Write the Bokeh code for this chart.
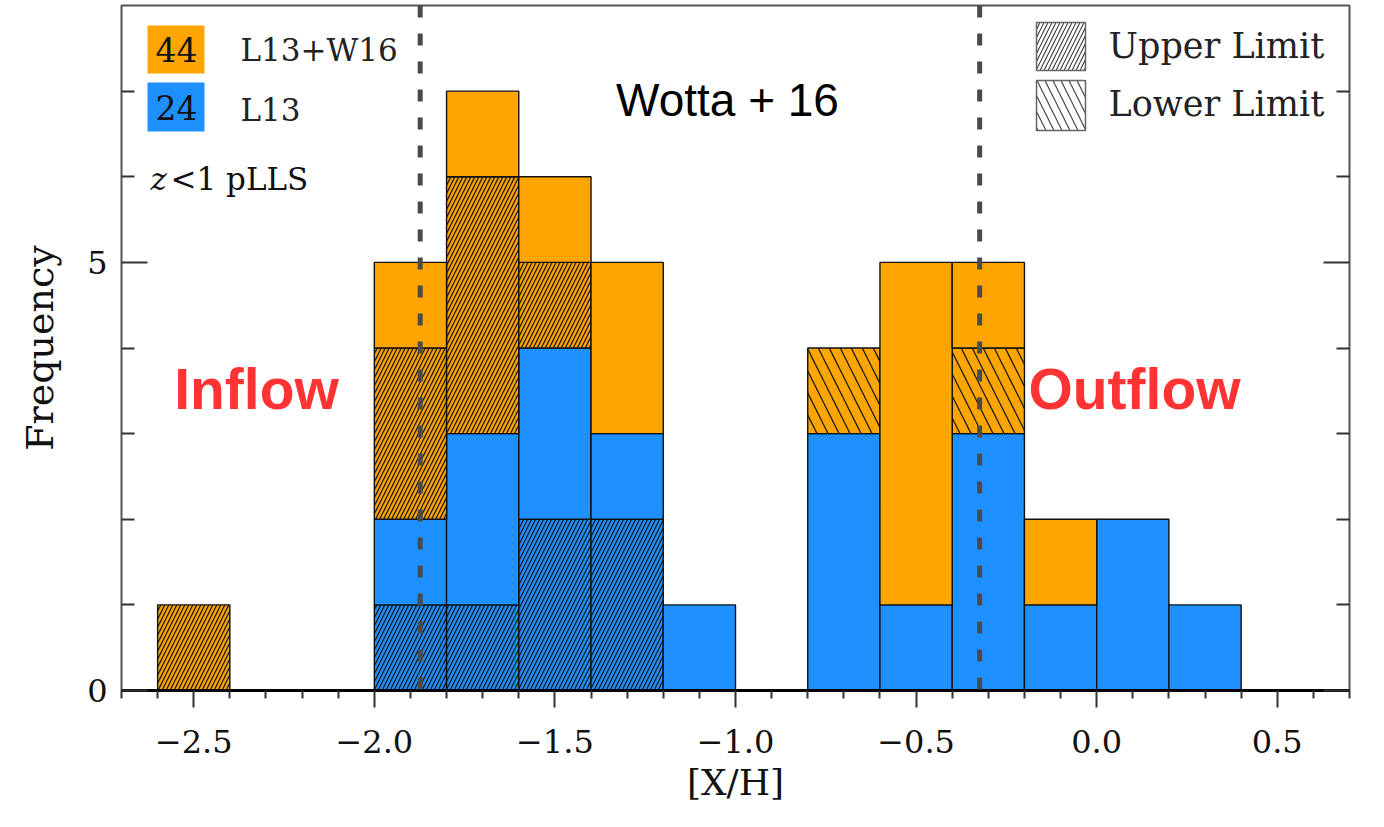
from bokeh.plotting import figure
from bokeh.models import Span, Label, FixedTicker, LinearAxis
from bokeh.embed import file_html
from bokeh.resources import INLINE

# ---------------- data ----------------
bin_left = [-2.6, -2.4, -2.2, -2.0, -1.8, -1.6, -1.4, -1.2, -1.0, -0.8, -0.6, -0.4, -0.2, 0.0, 0.2]
bin_width = 0.2
# L13 (blue): upper limits and detections
l13_upper = [0, 0, 0, 1, 1, 2, 2, 0, 0, 0, 0, 0, 0, 0, 0]
l13_det   = [0, 0, 0, 1, 2, 2, 1, 1, 0, 3, 1, 3, 1, 2, 1]
# W16 additions (orange): upper limits, lower limits, detections
w16_upper = [1, 0, 0, 2, 3, 1, 0, 0, 0, 0, 0, 0, 0, 0, 0]
w16_lower = [0, 0, 0, 0, 0, 0, 0, 0, 0, 1, 0, 1, 0, 0, 0]
w16_det   = [0, 0, 0, 1, 1, 1, 2, 0, 0, 0, 4, 1, 1, 0, 0]

n_total = ["44", "24"]
series_names = ["L13+W16", "L13"]
median_lines = [-1.873, -0.324]

x_major = [-2.5, -2.0, -1.5, -1.0, -0.5, 0.0, 0.5]
x_labels = ["\u22122.5", "\u22122.0", "\u22121.5", "\u22121.0", "\u22120.5", "0.0", "0.5"]
x_minor = [-2.7, -2.6, -2.4, -2.3, -2.2, -2.1, -1.9, -1.8, -1.7, -1.6, -1.4, -1.3, -1.2,
           -1.1, -0.9, -0.8, -0.7, -0.6, -0.4, -0.3, -0.2, -0.1, 0.1, 0.2, 0.3, 0.4, 0.6, 0.7]
y_major = [0, 5]
y_minor = [1, 2, 3, 4, 6, 7]

ORANGE = "#FFA500"
BLUE = "#1E90FF"
SERIF = "DejaVu Serif"
SANS = "Liberation Sans"

X0, X1 = -2.7, 0.7
Y0, Y1 = 0, 8

FL, FT, FW, FH = 121, 5, 1228, 685
W, H = 1368, 819

p = figure(width=W, height=H, x_range=(X0, X1), y_range=(Y0, Y1),
           output_backend="svg", toolbar_location=None,
           min_border_left=FL, min_border_right=W - FL - FW,
           min_border_top=FT, min_border_bottom=H - FT - FH)
p.grid.visible = False
p.outline_line_color = "#555555"
p.outline_line_width = 2
p.background_fill_color = "white"
p.border_fill_color = "white"

# pixel -> data helpers for annotation placement
def dx(px):
    return X0 + (px - FL) / FW * (X1 - X0)
def dy(py):
    return Y1 - (py - FT) / FH * (Y1 - Y0)

# ---------------- stacked histogram ----------------
layers = [
    (l13_upper, BLUE, "right_diagonal_line", 8),
    (l13_det, BLUE, None, None),
    (w16_upper, ORANGE, "right_diagonal_line", 8),
    (w16_lower, ORANGE, "left_diagonal_line", 22),
    (w16_det, ORANGE, None, None),
]
base = [0] * len(bin_left)
for counts, color, hatch, scale in layers:
    L, R, B, T = [], [], [], []
    for i, c in enumerate(counts):
        if c > 0:
            L.append(bin_left[i]); R.append(bin_left[i] + bin_width)
            B.append(base[i]); T.append(base[i] + c)
        base[i] += c
    if not L:
        continue
    kw = dict(left=L, right=R, bottom=B, top=T, fill_color=color,
              line_color="#111111", line_width=1.4)
    if hatch:
        kw.update(hatch_pattern=hatch, hatch_scale=scale, hatch_color="#1a1a1a",
                  hatch_weight=1.3)
    p.quad(**kw)

# dashed vertical lines
for m in median_lines:
    p.add_layout(Span(location=m, dimension="height", line_color="#4a4a4a",
                      line_width=5, line_dash="12 16"))

# ---------------- axes ----------------
xa = p.xaxis[0]
xa.ticker = FixedTicker(ticks=x_major, minor_ticks=x_minor)
xa.major_label_overrides = {t: s for t, s in zip(x_major, x_labels)}
xa.axis_line_color = "black"
xa.axis_line_width = 3
xa.major_tick_in = 0
xa.major_tick_out = 17
xa.minor_tick_in = 0
xa.minor_tick_out = 8
xa.major_tick_line_color = "#333333"
xa.minor_tick_line_color = "#333333"
xa.major_tick_line_width = 2
xa.minor_tick_line_width = 2
xa.major_label_text_font = SERIF
xa.major_label_text_font_size = "32px"
xa.major_label_text_color = "#111111"
xa.major_label_standoff = 22
xa.axis_label = "[X/H]"
xa.axis_label_text_font = SERIF
xa.axis_label_text_font_size = "36px"
xa.axis_label_text_font_style = "normal"
xa.axis_label_text_color = "#111111"
xa.axis_label_standoff = 6

ya = p.yaxis[0]
ya.ticker = FixedTicker(ticks=y_major, minor_ticks=y_minor)
ya.axis_line_color = None
ya.major_tick_in = 26
ya.major_tick_out = 0
ya.minor_tick_in = 13
ya.minor_tick_out = 0
ya.major_tick_line_color = "#333333"
ya.minor_tick_line_color = "#333333"
ya.major_tick_line_width = 2
ya.minor_tick_line_width = 2
ya.major_label_text_font = SERIF
ya.major_label_text_font_size = "32px"
ya.major_label_text_color = "#111111"
ya.major_label_standoff = 14
ya.axis_label = "Frequency"
ya.axis_label_text_font = SERIF
ya.axis_label_text_font_size = "38px"
ya.axis_label_text_font_style = "normal"
ya.axis_label_text_color = "#111111"
ya.axis_label_standoff = 22

ra = LinearAxis(ticker=FixedTicker(ticks=y_major, minor_ticks=y_minor))
ra.axis_line_color = None
ra.major_tick_in = 26
ra.major_tick_out = 0
ra.minor_tick_in = 13
ra.minor_tick_out = 0
ra.major_tick_line_color = "#333333"
ra.minor_tick_line_color = "#333333"
ra.major_tick_line_width = 2
ra.minor_tick_line_width = 2
ra.major_label_overrides = {t: "" for t in y_major}
ra.major_label_standoff = 0
p.add_layout(ra, "right")

# ---------------- legends ----------------
# colour boxes with counts
p.quad(left=[dx(147)], right=[dx(204)], top=[dy(25)], bottom=[dy(73)],
       fill_color=ORANGE, line_color=None)
p.quad(left=[dx(147)], right=[dx(204)], top=[dy(82)], bottom=[dy(131)],
       fill_color=BLUE, line_color=None)
for txt, py in zip(n_total, [49, 107]):
    p.add_layout(Label(x=dx(176), y=dy(py), text=txt, text_align="center",
                       text_baseline="middle", text_font=SERIF,
                       text_font_size="33px", text_color="#111111"))
for txt, py in zip(series_names, [49, 109]):
    p.add_layout(Label(x=dx(240), y=dy(py), text=txt, text_align="left",
                       text_baseline="middle", text_font=SERIF,
                       text_font_size="31px", text_color="#222222"))
p.add_layout(Label(x=dx(150), y=dy(178), text="z", text_align="left",
                   text_baseline="middle", text_font=SERIF, text_font_style="italic",
                   text_font_size="31px", text_color="#111111"))
p.add_layout(Label(x=dx(170), y=dy(178), text="<1 pLLS", text_align="left",
                   text_baseline="middle", text_font=SERIF,
                   text_font_size="31px", text_color="#111111"))

# hatch legend
p.quad(left=[dx(1036)], right=[dx(1085)], top=[dy(22)], bottom=[dy(70)],
       fill_color="white", line_color="#666666", line_width=1.5,
       hatch_pattern="right_diagonal_line", hatch_scale=8, hatch_color="#444444",
       hatch_weight=1.2)
p.quad(left=[dx(1036)], right=[dx(1085)], top=[dy(80)], bottom=[dy(130)],
       fill_color="white", line_color="#666666", line_width=1.5,
       hatch_pattern="left_diagonal_line", hatch_scale=16, hatch_color="#444444",
       hatch_weight=1.2)
for txt, py in zip(["Upper Limit", "Lower Limit"], [45, 103]):
    p.add_layout(Label(x=dx(1108), y=dy(py), text=txt, text_align="left",
                       text_baseline="middle", text_font=SERIF,
                       text_font_size="35px", text_color="#222222"))

# annotations
p.add_layout(Label(x=dx(727), y=dy(99), text="Wotta + 16", text_align="center",
                   text_baseline="middle", text_font=SANS,
                   text_font_size="46px", text_color="black"))
p.add_layout(Label(x=dx(256), y=dy(388), text="Inflow", text_align="center",
                   text_baseline="middle", text_font=SANS, text_font_style="bold",
                   text_font_size="57px", text_color="#FF3333"))
p.add_layout(Label(x=dx(1134), y=dy(388), text="Outflow", text_align="center",
                   text_baseline="middle", text_font=SANS, text_font_style="bold",
                   text_font_size="57px", text_color="#FF3333"))

open("out.html", "w").write(file_html(p, INLINE))
